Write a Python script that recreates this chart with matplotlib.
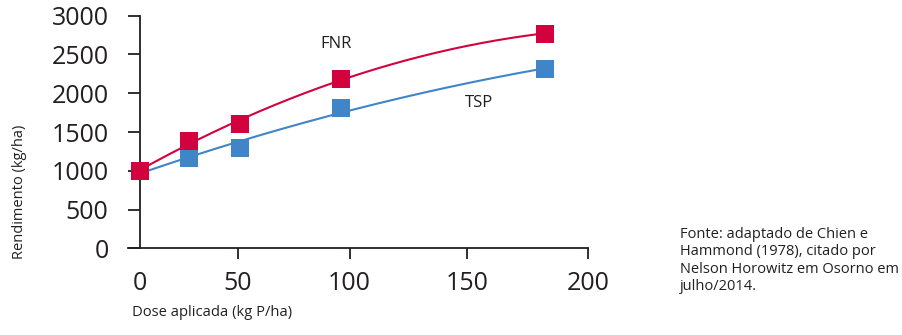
import numpy as np
import matplotlib
matplotlib.use("Agg")
import matplotlib.pyplot as plt

plt.rcParams['font.family'] = ['Open Sans', 'DejaVu Sans']

# Data: yield response to applied phosphorus dose
dose = [0, 25, 51, 96, 182]
fnr = [1000, 1390, 1600, 2190, 2770]
tsp = [1000, 1170, 1300, 1810, 2310]

x_ticks = [0, 50, 100, 150, 200]
y_ticks = [0, 500, 1000, 1500, 2000, 2500, 3000]

RED = '#d2023e'
BLUE = '#3f85c8'
INK = '#231f20'

# Axis drawn with uneven spacing between the dose ticks
knot_val = np.array([-50, 0, 50, 100, 150, 200, 250])
knot_pos = np.array([-97.7, 0, 97.7, 209.3, 326.7, 447.3, 567.9])


def fwd(v):
    return np.interp(v, knot_val, knot_pos)


def inv(p):
    return np.interp(p, knot_pos, knot_val)


fig = plt.figure(figsize=(9.02, 3.35), dpi=100)
ax = fig.add_axes([128 / 902, 1 - 248.3 / 335, 460 / 902, 232.6 / 335])
ax.set_xscale('function', functions=(fwd, inv))
ax.set_xlim(-6.1, 200)
ax.set_ylim(0, 3000)


def trend(xs, ys):
    t = fwd(np.asarray(xs, float))
    coef = np.polyfit(t, ys, 2)
    tt = np.linspace(t[0], t[-1], 300)
    return inv(tt), np.polyval(coef, tt)


for ys, col in ((tsp, BLUE), (fnr, RED)):
    cx, cy = trend(dose, ys)
    ax.plot(cx, cy, color=col, lw=1.5, solid_capstyle='round', zorder=3, clip_on=False)
    ax.plot(dose, ys, ls='none', marker='s', ms=12.5, mew=0, color=col,
            zorder=4, clip_on=False)

ax.text(93.8, 2640, 'FNR', fontsize=12, color=INK, ha='center', va='center')
ax.text(154.9, 1880, 'TSP', fontsize=12, color=INK, ha='center', va='center')

for side in ('top', 'right'):
    ax.spines[side].set_visible(False)
ax.spines['left'].set_position(('data', 0))
for side in ('left', 'bottom'):
    ax.spines[side].set_linewidth(1.3)
    ax.spines[side].set_color(INK)

ax.set_xticks(x_ticks)
ax.set_yticks(y_ticks)
ax.tick_params(axis='both', colors=INK, labelsize=18, width=1.3)
ax.tick_params(axis='y', length=8.6, pad=14)
ax.tick_params(axis='x', length=7.6, pad=9)
ax.xaxis.get_major_ticks()[0].tick1line.set_visible(False)

fig.text(20 / 902, 1 - 192 / 335, 'Rendimento (kg/ha)', rotation=90,
         fontsize=10.5, color=INK, ha='center', va='center')
fig.text(132 / 902, 1 - 313 / 335, 'Dose aplicada (kg P/ha)',
         fontsize=10.6, color=INK, ha='left', va='center')
fig.text(680 / 902, 1 - 227 / 335,
         'Fonte: adaptado de Chien e\nHammond (1978), citado por\n'
         'Nelson Horowitz em Osorno em\njulho/2014.',
         fontsize=10.5, color=INK, ha='left', va='top', linespacing=1.22)

fig.savefig('out.png', dpi=100, facecolor='white')
